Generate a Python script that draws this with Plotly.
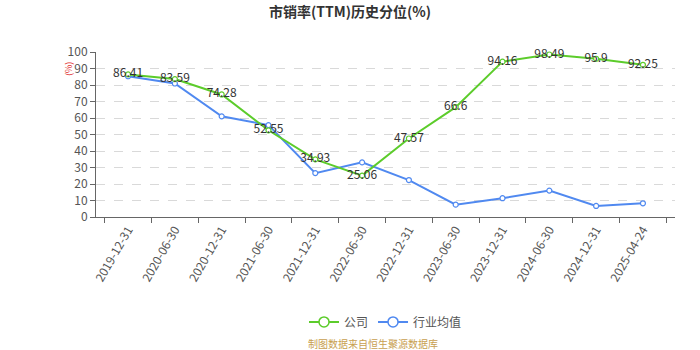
import plotly.graph_objects as go

dates = ["2019-12-31", "2020-06-30", "2020-12-31", "2021-06-30", "2021-12-31",
         "2022-06-30", "2022-12-31", "2023-06-30", "2023-12-31", "2024-06-30",
         "2024-12-31", "2025-04-24"]
company = [86.41, 83.59, 74.28, 52.55, 34.93, 25.06, 47.57, 66.6, 94.16, 98.49, 95.9, 92.25]
industry = [85.3, 80.9, 61.0, 55.7, 26.6, 33.1, 22.4, 7.5, 11.4, 16.0, 6.7, 8.3]

FONT = "Noto Sans CJK SC"
GREEN = "#5ccc2b"
BLUE = "#5089f0"

fig = go.Figure()
# industry line first so the company line and its labels sit on top
fig.add_trace(go.Scatter(
    x=dates, y=industry, name="行业均值", mode="lines+markers",
    line=dict(color=BLUE, width=2),
    marker=dict(symbol="circle", size=5, color="white", line=dict(color=BLUE, width=1.2)),
    cliponaxis=False, showlegend=False,
))
fig.add_trace(go.Scatter(
    x=dates, y=company, name="公司", mode="lines+markers+text",
    line=dict(color=GREEN, width=2),
    marker=dict(symbol="circle", size=5, color="white", line=dict(color=GREEN, width=1.2)),
    text=[f"{v:g}" for v in company], textposition="middle center",
    textfont=dict(family=FONT, size=12, color="#333333"),
    cliponaxis=False, showlegend=False,
))
# legend entries with larger hollow circles
for name, color in [("公司", GREEN), ("行业均值", BLUE)]:
    fig.add_trace(go.Scatter(
        x=[None], y=[None], name=name, mode="lines+markers",
        line=dict(color=color, width=2),
        marker=dict(symbol="circle", size=10, color="white", line=dict(color=color, width=1.5)),
    ))

fig.update_layout(
    width=700, height=350,
    margin=dict(l=96, r=25, t=52, b=133),
    paper_bgcolor="white", plot_bgcolor="white",
    font=dict(family=FONT, size=12, color="#555555"),
    title=dict(text="<b>市销率(TTM)历史分位(%)</b>", x=0.5, xanchor="center",
               y=1 - 12 / 350, yanchor="middle",
               font=dict(family=FONT, size=14, color="#333333")),
    showlegend=True,
    legend=dict(orientation="h", x=0.5, xanchor="center", y=-0.636, yanchor="middle",
                font=dict(family=FONT, size=12, color="#555555"),
                itemwidth=30),
    xaxis=dict(type="category", tickson="boundaries", ticks="outside", ticklen=5,
               tickcolor="#666666", showline=True, linecolor="#666666", linewidth=1,
               showgrid=False, tickangle=-60,
               tickfont=dict(family=FONT, size=12, color="#555555")),
    yaxis=dict(range=[0, 100], dtick=10, tick0=0, ticks="outside", ticklen=5,
               tickcolor="#666666", showline=True, linecolor="#666666", linewidth=1,
               showgrid=True, gridcolor="#d9d9d9", griddash="dash", zeroline=False,
               tickfont=dict(family=FONT, size=12, color="#555555")),
)
fig.add_annotation(text="(%)", xref="paper", yref="paper",
                   x=-28 / 579, y=1 - 17 / 165, xanchor="center", yanchor="middle",
                   textangle=-90, showarrow=False,
                   font=dict(family=FONT, size=9, color="#e03030"))
fig.add_annotation(text="制图数据来自恒生聚源数据库", xref="paper", yref="paper",
                   x=0.5 - 25 / 579 / 2, xanchor="center", y=-126 / 165, yanchor="middle",
                   showarrow=False, borderpad=0,
                   font=dict(family=FONT, size=10, color="#c8a050"))

fig.write_html("out.html")
